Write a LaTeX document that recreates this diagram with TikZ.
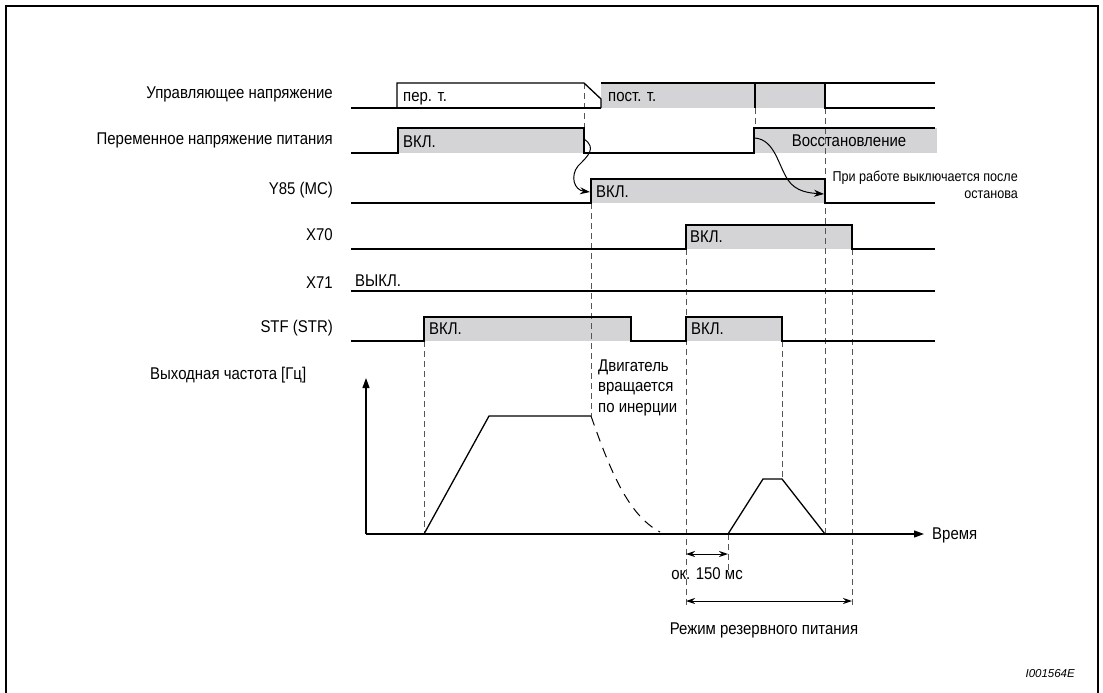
\documentclass[tikz,border=0pt]{standalone}
\usepackage{fontspec}
\setmainfont{Liberation Sans}[FakeStretch=0.88]
\newfontfamily\codefont{Liberation Sans}
\usetikzlibrary{arrows.meta}
\usetikzlibrary{positioning}
\definecolor{g1}{RGB}{212, 212, 214}
\definecolor{g2}{RGB}{85, 85, 85}
\tikzset{
  sig/.style = {line width=1.3pt, line join=miter},
  onbox/.style = {fill=g1, draw=none},
  guide/.style = {g2, line width=0.9pt, dash pattern=on 6pt off 4pt},
  coast/.style = {line width=1pt, dash pattern=on 10pt off 7pt},
  sname/.style = {anchor=base east, inner sep=0pt, font=\fontsize{17}{20}\selectfont},
  intxt/.style = {anchor=base west, inner sep=0pt, font=\fontsize{17}{20}\selectfont},
  note/.style = {anchor=base east, inner sep=0pt, font=\fontsize{14.3}{17}\selectfont},
  flow/.style = {-{Stealth[length=10pt, width=7pt]}, line width=1pt},
  span/.style = {{Stealth[length=9pt, width=6pt]}-{Stealth[length=9pt, width=6pt]}, line width=1pt},
  axisline/.style = {-{Triangle[length=10pt, width=7pt]}, line width=1.2pt},
}

\begin{document}
\begin{tikzpicture}[x=1pt, y=-1pt]
    \useasboundingbox (0,0) rectangle (1103,693);
    \draw[line width=2.2pt] (6,693) -- (6,6) -- (1098,6) -- (1098,693);

    % signal names
    \node[sname] (lctl) at (333,99) {Управляющее напряжение};
    \node[sname] (lac) at (333,144) {Переменное напряжение питания};
    \node[sname] (ly85) at (333,194) {Y85 (MC)};
    \node[sname] (lx70) at (333,240) {X70};
    \node[sname] (lx71) at (333,288) {X71};
    \node[sname] (lstf) at (333,332) {STF (STR)};
    \node[intxt] (lfreq) at (150,379) {Выходная частота [Гц]};

    % grey "on" areas
    \fill[onbox] (601,83) rectangle (825,108);
    \fill[onbox] (398,128) rectangle (584,153);
    \fill[onbox] (754,128) rectangle (937,153);
    \fill[onbox] (591,179) rectangle (825,203);
    \fill[onbox] (686,225) rectangle (852,249);
    \fill[onbox] (424,317) rectangle (631,341);
    \fill[onbox] (686,317) rectangle (782,341);

    % dashed time marks
    \draw[guide] (584,83) -- (584,128);
    \draw[guide] (755,108) -- (755,128);
    \draw[guide] (825,108) -- (825,534);
    \draw[guide] (591,203) -- (591,416);
    \draw[guide] (686,249) -- (686,608);
    \draw[guide] (852,249) -- (852,608);
    \draw[guide] (424,341) -- (424,534);
    \draw[guide] (782,341) -- (782,479);
    \draw[guide] (728,534) -- (728,575);

    % waveforms
    {
        \draw[sig] (351,108) -- (601,108);
        \draw[sig] (397,108) -- (397,83) -- (584,83) -- (601,99) -- (601,108);
        \draw[sig] (601,83) -- (935,83);
        \draw[sig] (755,83) -- (755,108);
        \draw[sig] (825,83) -- (825,108) -- (935,108);

        \draw[sig] (351,153) -- (398,153) -- (398,128) -- (584,128) -- (584,153)
            -- (754,153) -- (754,128) -- (935,128);
        \draw[sig] (351,203) -- (591,203) -- (591,179) -- (825,179) -- (825,203) -- (935,203);
        \draw[sig] (351,249) -- (686,249) -- (686,225) -- (852,225) -- (852,249) -- (935,249);
        \draw[sig] (351,291) -- (935,291);
        \draw[sig] (351,341) -- (424,341) -- (424,317) -- (631,317) -- (631,341)
            -- (686,341) -- (686,317) -- (782,317) -- (782,341) -- (935,341);
    }

    \node[intxt] (tac) at (403,101) {пер. т.};
    \node[intxt] (tdc) at (608,101) {пост. т.};
    \node[intxt] (ton1) at (403,147) {ВКЛ.};
    \node[intxt, anchor=base] (trec) at (849,146) {Восстановление};
    \node[intxt] (ton2) at (596,197) {ВКЛ.};
    \node[intxt] (ton3) at (690,242) {ВКЛ.};
    \node[intxt] (toff) at (355,286) {ВЫКЛ.};
    \node[intxt] (ton4) at (429,334) {ВКЛ.};
    \node[intxt] (ton5) at (691,334) {ВКЛ.};

    \node[note] (nstop1) at (1018,181) {При работе выключается после};
    \node[note] (nstop2) at (1018,198) {останова};

    % cause -> effect
    \coordinate (acoff) at (584,139);
    \coordinate (mcon) at (590,192);
    \coordinate (acback) at (755,138);
    \coordinate (mcoff) at (824,194);
    \draw[flow] (acoff) .. controls (597,148) and (588,156) .. (578,166)
        .. controls (570,176) and (574,190) .. (mcon);
    \draw[flow] (acback) .. controls (775,140) and (778,165) .. (788,180)
        .. controls (796,192) and (810,193) .. (mcoff);

    % output frequency
    \coordinate (o) at (366,534);
    \coordinate (ytip) at (366,378);
    \coordinate (xtip) at (924,534);
    \draw[axisline] (o) -- (ytip);
    \draw[axisline] (o) -- (xtip);
    \node[intxt] (ttime) at (932,539) {Время};

    \draw[sig] (424,534) -- (489,416) -- (591,416);
    \draw[coast] (591,416) .. controls (610,470) and (628,515) .. (660,532);
    \draw[sig] (728,534) -- (763,479) -- (782,479) -- (825,534);

    \node[intxt] (tm1) at (598,371) {Двигатель};
    \node[intxt] (tm2) at (598,391) {вращается};
    \node[intxt] (tm3) at (598,412) {по инерции};

    % times
    \coordinate (d1a) at (686,554);
    \coordinate (d1b) at (728,554);
    \coordinate (d2a) at (686,601);
    \coordinate (d2b) at (852,601);
    \draw[span] (d1a) -- (d1b);
    \draw[span] (d2a) -- (d2b);
    \node[intxt, anchor=base] (t150) at (707,579) {ок. 150 мс};
    \node[intxt, anchor=base] (tbackup) at (764,634) {Режим резервного питания};

    \node[note, font=\codefont\itshape\fontsize{11.5}{14}\selectfont] (code) at (1075,677) {I001564E};
\end{tikzpicture}
\end{document}
